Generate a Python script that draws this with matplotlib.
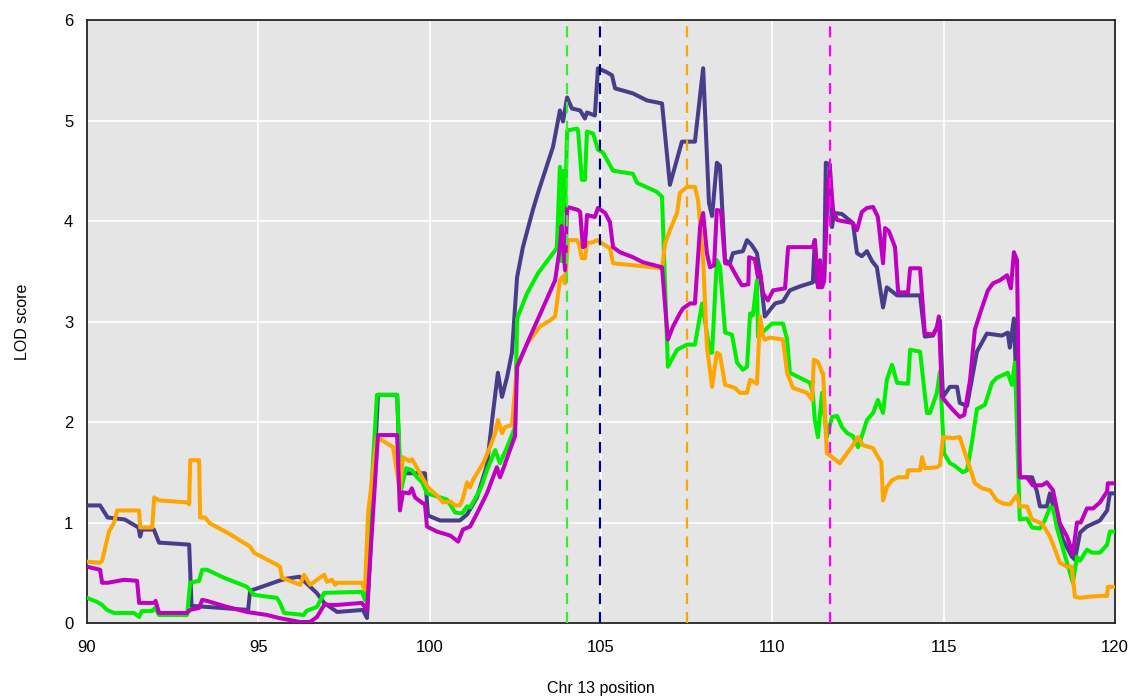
import matplotlib
matplotlib.use('Agg')
import matplotlib.pyplot as plt

plt.rcParams['font.family'] = ['Liberation Sans', 'DejaVu Sans']

# LOD curves along chromosome 13, one (position, LOD) series per trait
blue_pos = [90.0, 90.38, 90.6, 91.1, 91.5, 91.55, 91.6, 91.95, 92.1, 92.98, 93.05, 93.5, 94.7, 94.76,
            95.6, 95.8, 96.2, 96.7, 96.92, 97.3, 98.05, 98.17, 98.49, 99.05, 99.13, 99.86, 99.95,
            100.3, 100.88, 101.09, 101.38, 101.67, 101.85, 101.99, 102.11, 102.26, 102.4, 102.55,
            102.72, 103.01, 103.16, 103.6, 103.8, 103.89, 104.01, 104.15, 104.39, 104.53, 104.59,
            104.82, 104.91, 105.17, 105.32, 105.41, 105.93, 106.34, 106.78, 107.01, 107.36, 107.74,
            107.98, 108.15, 108.24, 108.38, 108.47, 108.62, 108.76, 108.85, 109.14, 109.26, 109.4,
            109.55, 109.64, 109.78, 110.08, 110.31, 110.51, 110.81, 111.18, 111.24, 111.3, 111.39,
            111.51, 111.56, 111.68, 111.74, 111.8, 112.03, 112.35, 112.47, 112.61, 112.76, 112.91,
            113.05, 113.23, 113.34, 113.64, 114.31, 114.45, 114.69, 114.89, 114.98, 115.18, 115.39,
            115.47, 115.68, 115.97, 116.26, 116.7, 116.87, 116.93, 117.05, 117.22, 117.58, 117.72,
            117.81, 118.01, 118.1, 118.25, 118.48, 118.74, 118.83, 118.98, 119.18, 119.56, 119.77,
            119.85, 120.0]
blue_lod = [1.17, 1.17, 1.05, 1.03, 0.95, 0.86, 0.93, 0.93, 0.80, 0.78, 0.17, 0.16, 0.13, 0.32,
            0.42, 0.44, 0.46, 0.30, 0.20, 0.11, 0.13, 0.05, 2.27, 2.27, 1.49, 1.49, 1.07,
            1.02, 1.02, 1.08, 1.25, 1.57, 2.10, 2.49, 2.25, 2.45, 2.69, 3.44,
            3.74, 4.11, 4.28, 4.74, 5.10, 4.99, 5.23, 5.12, 5.10, 5.02, 5.08,
            5.05, 5.52, 5.48, 5.45, 5.32, 5.27, 5.20, 5.17, 4.36, 4.79, 4.79,
            5.52, 4.18, 4.05, 4.58, 4.55, 3.61, 3.58, 3.68, 3.70, 3.81, 3.76,
            3.68, 3.48, 3.05, 3.18, 3.20, 3.31, 3.35, 3.39, 3.81, 3.39, 3.34,
            3.42, 4.58, 4.56, 3.94, 4.08, 4.07, 3.98, 3.68, 3.65, 3.70, 3.60,
            3.54, 3.14, 3.34, 3.26, 3.26, 2.85, 2.86, 3.01, 2.25, 2.35, 2.35,
            2.19, 2.16, 2.70, 2.88, 2.86, 2.89, 2.74, 3.03, 1.45, 1.45, 1.31,
            1.16, 1.16, 1.29, 1.09, 0.83, 0.66, 0.63, 0.90, 0.96, 1.02, 1.12,
            1.29, 1.29]

green_pos = [90.0, 90.29, 90.44, 90.58, 90.79, 91.37, 91.52, 91.6, 91.9, 91.98, 92.1, 92.92, 93.01,
             93.27, 93.36, 93.5, 94.0, 94.67, 94.87, 95.54, 95.63, 95.75, 96.33, 96.4, 96.71, 96.8,
             96.92, 98.02, 98.11, 98.46, 99.05, 99.16, 99.31, 99.48, 99.63, 99.78, 99.92, 100.21,
             100.5, 100.74, 100.94, 101.09, 101.18, 101.38, 101.5, 101.67, 101.91, 102.05, 102.26,
             102.49, 102.55, 102.84, 103.16, 103.51, 103.71, 103.8, 103.85, 103.89, 103.95, 104.01,
             104.3, 104.33, 104.44, 104.53, 104.59, 104.77, 104.91, 105.06, 105.35, 105.93, 106.05,
             106.63, 106.78, 106.95, 107.22, 107.51, 107.74, 107.95, 108.18, 108.24, 108.38, 108.47,
             108.62, 108.82, 108.97, 109.14, 109.26, 109.35, 109.43, 109.55, 109.58, 109.99, 110.31,
             110.43, 110.51, 111.1, 111.18, 111.24, 111.33, 111.45, 111.59, 111.74, 111.89, 112.03,
             112.18, 112.35, 112.5, 112.64, 112.76, 112.94, 113.08, 113.23, 113.34, 113.49, 113.64,
             113.96, 114.02, 114.31, 114.51, 114.6, 114.8, 114.89, 115.01, 115.18, 115.3, 115.56,
             115.68, 115.82, 115.97, 116.2, 116.41, 116.55, 116.87, 116.99, 117.08, 117.22, 117.43,
             117.58, 117.81, 117.95, 118.1, 118.19, 118.3, 118.6, 118.77, 118.89, 118.98, 119.18,
             119.33, 119.56, 119.77, 119.85, 120.0]
green_lod = [0.25, 0.21, 0.18, 0.13, 0.10, 0.10, 0.06, 0.12, 0.12, 0.15, 0.08, 0.08, 0.40,
             0.42, 0.53, 0.53, 0.45, 0.36, 0.28, 0.25, 0.20, 0.10, 0.08, 0.12, 0.16, 0.22,
             0.30, 0.31, 0.23, 2.27, 2.27, 1.32, 1.54, 1.52, 1.45, 1.40, 1.29, 1.26,
             1.23, 1.10, 1.09, 1.16, 1.15, 1.27, 1.35, 1.52, 1.72, 1.59, 1.75,
             1.95, 3.03, 3.28, 3.48, 3.64, 3.73, 4.54, 3.60, 4.50, 4.10, 4.90,
             4.92, 4.90, 4.41, 4.41, 4.89, 4.87, 4.71, 4.68, 4.50, 4.47, 4.38,
             4.29, 4.24, 2.55, 2.72, 2.77, 2.77, 3.18, 2.69, 2.69, 3.61, 3.55,
             2.89, 2.87, 2.59, 2.52, 2.55, 3.08, 3.06, 3.41, 2.85, 2.98, 2.98,
             2.82, 2.49, 2.39, 2.29, 2.02, 1.85, 2.29, 1.85, 2.05, 2.06, 1.95,
             1.89, 1.86, 1.75, 1.89, 2.02, 2.09, 2.22, 2.09, 2.42, 2.57, 2.39,
             2.38, 2.72, 2.70, 2.09, 2.09, 2.29, 2.50, 1.69, 1.59, 1.57, 1.50,
             1.52, 1.79, 2.13, 2.17, 2.39, 2.44, 2.49, 2.37, 2.59, 1.03, 1.04,
             0.95, 0.94, 1.02, 1.15, 1.15, 0.95, 0.60, 0.40, 0.66, 0.62, 0.73,
             0.70, 0.70, 0.78, 0.91, 0.91]

orange_pos = [90.0, 90.38, 90.44, 90.64, 90.79, 90.88, 91.52, 91.55, 91.9, 91.96, 92.1, 92.92, 92.98,
              93.01, 93.27, 93.3, 93.44, 93.59, 94.09, 94.76, 94.87, 95.54, 95.63, 95.69, 96.22,
              96.33, 96.51, 96.71, 96.92, 97.0, 97.15, 97.24, 97.3, 98.02, 98.11, 98.2, 98.46,
              98.93, 99.13, 99.22, 99.4, 99.48, 99.57, 99.78, 99.95, 100.21, 100.39, 100.6, 100.74,
              100.88, 100.97, 101.09, 101.18, 101.26, 101.56, 101.76, 101.91, 101.99, 102.11, 102.2,
              102.4, 102.43, 102.55, 102.84, 103.22, 103.51, 103.66, 103.8, 103.89, 103.95, 104.04,
              104.3, 104.36, 104.44, 104.53, 104.59, 104.77, 104.88, 105.06, 105.26, 105.35, 105.93,
              106.78, 106.87, 107.01, 107.22, 107.3, 107.51, 107.74, 107.83, 107.98, 108.09, 108.24,
              108.38, 108.47, 108.62, 108.91, 109.05, 109.26, 109.35, 109.55, 109.64, 109.73, 109.78,
              109.93, 110.31, 110.43, 110.6, 111.01, 111.16, 111.21, 111.33, 111.45, 111.48, 111.59,
              111.97, 112.18, 112.35, 112.5, 112.64, 112.94, 113.05, 113.18, 113.23, 113.34, 113.49,
              113.67, 113.93, 113.96, 114.31, 114.37, 114.45, 114.8, 114.89, 114.98, 115.27, 115.47,
              115.62, 115.77, 115.91, 116.12, 116.35, 116.55, 116.73, 116.93, 117.14, 117.22, 117.43,
              117.58, 117.87, 118.1, 118.25, 118.39, 118.6, 118.74, 118.77, 118.83, 118.98, 119.18,
              119.56, 119.77, 119.79, 120.0]
orange_lod = [0.61, 0.60, 0.62, 0.91, 1.00, 1.12, 1.12, 0.95, 0.95, 1.25, 1.22, 1.20, 1.18,
              1.62, 1.62, 1.05, 1.05, 0.99, 0.90, 0.76, 0.70, 0.58, 0.56, 0.45, 0.38,
              0.48, 0.38, 0.43, 0.48, 0.41, 0.43, 0.38, 0.40, 0.40, 0.33, 1.09, 1.85,
              1.75, 1.32, 1.65, 1.61, 1.63, 1.58, 1.45, 1.35, 1.27, 1.20, 1.21, 1.17,
              1.17, 1.24, 1.40, 1.35, 1.42, 1.59, 1.75, 1.89, 2.02, 1.89, 1.95,
              1.97, 2.09, 2.55, 2.78, 2.95, 3.01, 3.05, 3.41, 3.45, 3.38, 3.81,
              3.81, 3.76, 3.63, 3.63, 3.78, 3.79, 3.81, 3.77, 3.73, 3.58, 3.56,
              3.53, 3.78, 3.91, 4.08, 4.28, 4.34, 4.34, 4.21, 3.61, 2.75, 2.35,
              2.69, 2.67, 2.37, 2.34, 2.29, 2.29, 2.42, 2.38, 3.05, 2.85, 2.82,
              2.84, 2.82, 2.49, 2.34, 2.29, 2.22, 2.62, 2.60, 2.49, 2.49, 1.69,
              1.59, 1.69, 1.77, 1.85, 1.77, 1.74, 1.67, 1.60, 1.22, 1.35, 1.42,
              1.45, 1.45, 1.52, 1.52, 1.65, 1.54, 1.55, 1.57, 1.85, 1.84, 1.85,
              1.69, 1.54, 1.39, 1.34, 1.32, 1.22, 1.19, 1.18, 1.27, 1.16, 1.16,
              1.03, 0.99, 0.86, 0.73, 0.60, 0.56, 0.56, 0.45, 0.26, 0.25, 0.26,
              0.27, 0.27, 0.36, 0.36]

magenta_pos = [90.0, 90.38, 90.44, 90.6, 91.08, 91.46, 91.52, 91.96, 92.0, 92.1, 92.92, 93.0, 93.27,
               93.36, 93.5, 94.09, 94.67, 95.25, 95.6, 96.22, 96.51, 96.71, 96.92, 97.3, 98.02,
               98.17, 98.49, 99.05, 99.13, 99.22, 99.4, 99.48, 99.57, 99.8, 99.86, 99.92, 100.21,
               100.5, 100.6, 100.83, 100.97, 101.18, 101.38, 101.67, 101.96, 102.05, 102.11, 102.34,
               102.49, 102.55, 102.93, 103.31, 103.66, 103.8, 103.85, 103.95, 104.01, 104.33, 104.39,
               104.47, 104.53, 104.59, 104.82, 104.91, 105.12, 105.26, 105.35, 105.55, 105.93, 106.22,
               106.78, 106.95, 107.1, 107.3, 107.39, 107.6, 107.74, 107.89, 107.98, 108.09, 108.18,
               108.3, 108.38, 108.5, 108.62, 108.76, 108.97, 109.11, 109.3, 109.32, 109.49, 109.58,
               109.64, 109.73, 109.87, 110.02, 110.37, 110.46, 111.18, 111.24, 111.33, 111.39, 111.45,
               111.51, 111.62, 111.68, 111.77, 111.89, 112.18, 112.35, 112.47, 112.61, 112.76, 112.94,
               113.08, 113.23, 113.29, 113.4, 113.58, 113.67, 113.96, 114.02, 114.31, 114.45, 114.69,
               114.8, 114.86, 114.95, 115.09, 115.27, 115.47, 115.6, 115.77, 115.91, 116.06, 116.29,
               116.44, 116.64, 116.85, 116.96, 117.05, 117.14, 117.22, 117.43, 117.6, 117.87, 118.01,
               118.19, 118.39, 118.6, 118.77, 118.89, 119.0, 119.18, 119.36, 119.56, 119.77, 119.79,
               120.0]
magenta_lod = [0.56, 0.53, 0.40, 0.40, 0.43, 0.42, 0.20, 0.20, 0.22, 0.10, 0.10, 0.13, 0.15,
               0.23, 0.22, 0.16, 0.11, 0.08, 0.05, 0.01, 0.01, 0.06, 0.18, 0.18, 0.20,
               0.13, 1.87, 1.87, 1.12, 1.30, 1.29, 1.34, 1.25, 1.19, 1.19, 0.96, 0.91,
               0.88, 0.87, 0.81, 0.93, 0.96, 1.09, 1.29, 1.55, 1.45, 1.50, 1.72,
               1.86, 2.55, 2.85, 3.14, 3.41, 3.74, 3.95, 3.51, 4.14, 4.11, 4.09,
               3.74, 3.75, 4.06, 4.04, 4.13, 4.08, 3.99, 3.74, 3.69, 3.64, 3.59,
               3.54, 2.82, 2.95, 3.08, 3.13, 3.18, 3.18, 3.94, 4.08, 3.68, 3.54,
               3.56, 4.11, 4.10, 3.58, 3.57, 3.44, 3.36, 3.37, 3.64, 3.62, 3.44,
               3.50, 3.28, 3.21, 3.31, 3.33, 3.74, 3.74, 3.81, 3.34, 3.61, 3.34,
               3.40, 4.31, 4.51, 4.11, 4.01, 3.99, 3.98, 3.91, 4.09, 4.13, 4.14,
               4.04, 3.58, 3.93, 3.90, 3.74, 3.29, 3.29, 3.53, 3.53, 2.88, 2.87,
               2.94, 3.05, 2.25, 2.19, 2.12, 2.05, 2.07, 2.42, 2.92, 3.08, 3.31,
               3.38, 3.41, 3.46, 3.33, 3.69, 3.61, 1.45, 1.45, 1.37, 1.37, 1.40,
               1.32, 0.99, 0.86, 0.69, 1.00, 1.00, 1.14, 1.14, 1.20, 1.31, 1.39,
               1.39]

# peak positions marked with dashed lines
peak_pos = [104.01, 104.97, 107.51, 111.68]
peak_colors = ['#33ee33', '#000080', '#ffa500', '#ff00ff']

fig = plt.figure(figsize=(11.32, 7.0), dpi=100)
ax = fig.add_axes([0.0769, 0.11, 0.9081, 0.8614])
ax.set_facecolor('#e5e5e5')

series = [
    (blue_pos, blue_lod, '#483d8b'),
    (green_pos, green_lod, '#00ee00'),
    (orange_pos, orange_lod, '#ffa500'),
    (magenta_pos, magenta_lod, '#c000c0'),
]
for pos, lod, col in series:
    ax.plot(pos, lod, color=col, linewidth=2.9, solid_joinstyle='round', zorder=3)

for p, col in zip(peak_pos, peak_colors):
    ax.axvline(p, color=col, linewidth=1.6, linestyle=(0, (5, 3.5)), zorder=4)

ax.set_xlim(90, 120)
ax.set_ylim(0, 6)
ax.set_xticks([90, 95, 100, 105, 110, 115, 120])
ax.set_yticks([0, 1, 2, 3, 4, 5, 6])
ax.grid(True, color='white', linewidth=1.2, zorder=0)
ax.set_axisbelow(True)
ax.tick_params(axis='both', length=0, labelsize=12, colors='black')
ax.tick_params(axis='x', pad=12)
ax.tick_params(axis='y', pad=10)

for s in ax.spines.values():
    s.set_color('#222222')
    s.set_linewidth(1.3)

ax.set_xlabel('Chr 13 position', fontsize=11.5, labelpad=19)
ax.set_ylabel('LOD score', fontsize=11.5, labelpad=24)

fig.savefig('out.png', dpi=100)
